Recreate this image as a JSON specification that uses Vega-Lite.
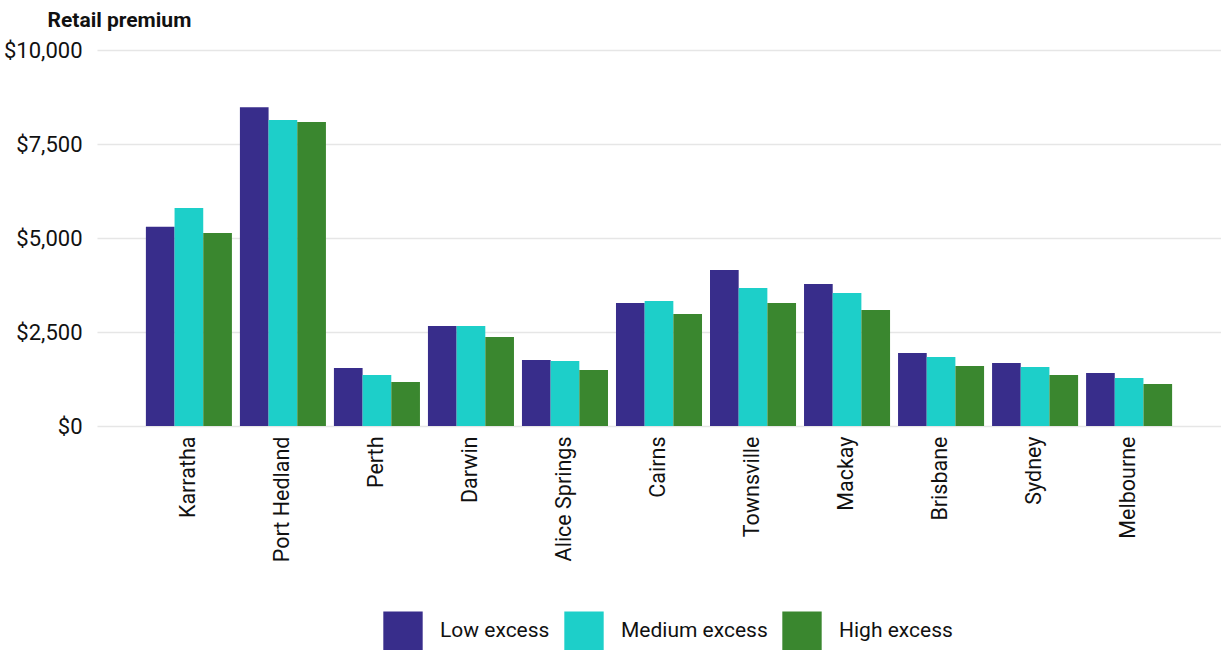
{
  "$schema": "https://vega.github.io/schema/vega-lite/v6.json",
  "width": 1124,
  "height": 376,
  "autosize": {"type": "none"},
  "padding": {"left": 97, "top": 50, "right": 0, "bottom": 224},
  "config": {
    "font": "Roboto",
    "view": {"stroke": null},
    "axis": {"labelFont": "Roboto", "titleFont": "Roboto"},
    "legend": {"labelFont": "Roboto"}
  },
  "data": {
    "values": [
      {"city": "Karratha", "excess": "Low excess", "premium": 5300},
      {"city": "Karratha", "excess": "Medium excess", "premium": 5800},
      {"city": "Karratha", "excess": "High excess", "premium": 5130},
      {"city": "Port Hedland", "excess": "Low excess", "premium": 8480},
      {"city": "Port Hedland", "excess": "Medium excess", "premium": 8140},
      {"city": "Port Hedland", "excess": "High excess", "premium": 8085},
      {"city": "Perth", "excess": "Low excess", "premium": 1545},
      {"city": "Perth", "excess": "Medium excess", "premium": 1356},
      {"city": "Perth", "excess": "High excess", "premium": 1170},
      {"city": "Darwin", "excess": "Low excess", "premium": 2660},
      {"city": "Darwin", "excess": "Medium excess", "premium": 2660},
      {"city": "Darwin", "excess": "High excess", "premium": 2367},
      {"city": "Alice Springs", "excess": "Low excess", "premium": 1755},
      {"city": "Alice Springs", "excess": "Medium excess", "premium": 1729},
      {"city": "Alice Springs", "excess": "High excess", "premium": 1489},
      {"city": "Cairns", "excess": "Low excess", "premium": 3271},
      {"city": "Cairns", "excess": "Medium excess", "premium": 3324},
      {"city": "Cairns", "excess": "High excess", "premium": 2979},
      {"city": "Townsville", "excess": "Low excess", "premium": 4149},
      {"city": "Townsville", "excess": "Medium excess", "premium": 3670},
      {"city": "Townsville", "excess": "High excess", "premium": 3271},
      {"city": "Mackay", "excess": "Low excess", "premium": 3777},
      {"city": "Mackay", "excess": "Medium excess", "premium": 3537},
      {"city": "Mackay", "excess": "High excess", "premium": 3085},
      {"city": "Brisbane", "excess": "Low excess", "premium": 1941},
      {"city": "Brisbane", "excess": "Medium excess", "premium": 1835},
      {"city": "Brisbane", "excess": "High excess", "premium": 1596},
      {"city": "Sydney", "excess": "Low excess", "premium": 1676},
      {"city": "Sydney", "excess": "Medium excess", "premium": 1569},
      {"city": "Sydney", "excess": "High excess", "premium": 1356},
      {"city": "Melbourne", "excess": "Low excess", "premium": 1410},
      {"city": "Melbourne", "excess": "Medium excess", "premium": 1277},
      {"city": "Melbourne", "excess": "High excess", "premium": 1117}
    ]
  },
  "mark": {"type": "bar"},
  "encoding": {
    "x": {
      "field": "city",
      "type": "nominal",
      "sort": null,
      "scale": {"paddingInner": 0.085, "paddingOuter": 0.52},
      "axis": {
        "title": null,
        "labelAngle": -90,
        "labelFontSize": 21.5,
        "labelColor": "#111111",
        "labelPadding": 10,
        "ticks": false,
        "domain": false,
        "grid": false
      }
    },
    "xOffset": {
      "field": "excess",
      "type": "nominal",
      "sort": ["Low excess", "Medium excess", "High excess"],
      "scale": {"paddingInner": 0, "paddingOuter": 0}
    },
    "y": {
      "field": "premium",
      "type": "quantitative",
      "scale": {"domain": [0, 10000]},
      "axis": {
        "title": "Retail premium",
        "titleAngle": 0,
        "titleAlign": "left",
        "titleBaseline": "bottom",
        "titleX": -50,
        "titleY": -20,
        "titleFontSize": 21,
        "titleFontWeight": "bold",
        "titleColor": "#111111",
        "values": [0, 2500, 5000, 7500, 10000],
        "format": "$,.0f",
        "labelFontSize": 22,
        "labelColor": "#111111",
        "labelPadding": 15,
        "ticks": false,
        "domain": false,
        "gridColor": "#e6e6e6",
        "gridWidth": 1.5
      }
    },
    "color": {
      "field": "excess",
      "type": "nominal",
      "sort": ["Low excess", "Medium excess", "High excess"],
      "scale": {
        "domain": ["Low excess", "Medium excess", "High excess"],
        "range": ["#382D8B", "#1DCFC9", "#3A872F"]
      },
      "legend": {
        "title": null,
        "orient": "none",
        "direction": "horizontal",
        "legendX": 286,
        "legendY": 561,
        "symbolType": "square",
        "symbolSize": 1550,
        "symbolStrokeWidth": 0,
        "labelFontSize": 21,
        "labelColor": "#111111",
        "labelOffset": 17,
        "columnPadding": 14
      }
    }
  }
}
